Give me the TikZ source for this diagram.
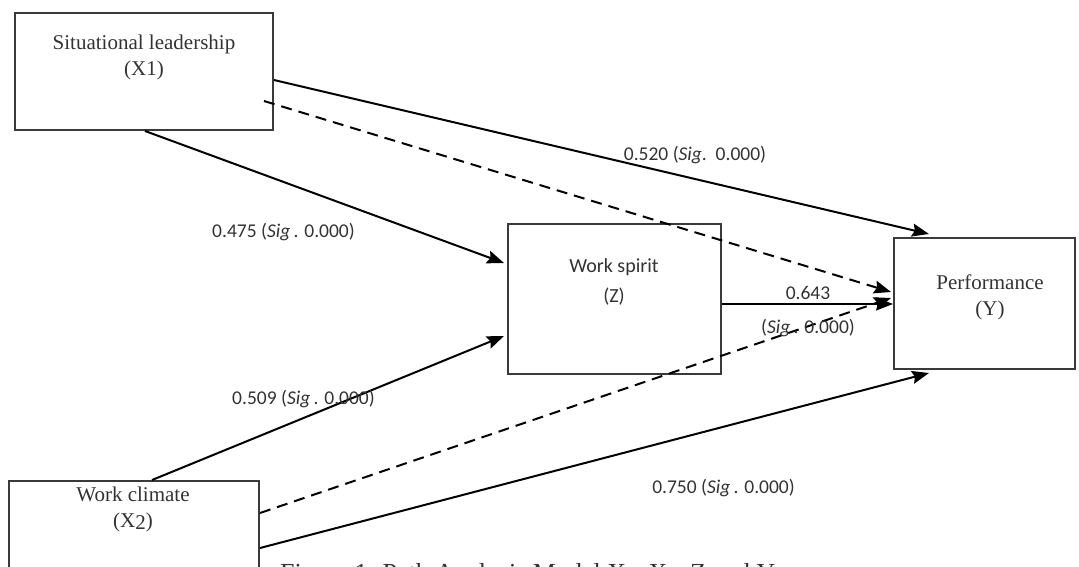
\documentclass[tikz,border=0pt]{standalone}
\usepackage{fontspec}
\setmainfont{Liberation Serif}
\newfontfamily\calib{Carlito}
\usetikzlibrary{arrows.meta,calc}
\definecolor{boxcol}{HTML}{3A3A3A}
\definecolor{txtcol}{HTML}{333333}
\tikzset{
  box/.style={draw=boxcol, line width=2pt, inner sep=0pt},
  sertxt/.style={align=center, text=txtcol, font=\fontsize{21}{26}\selectfont, inner sep=0pt},
  santxt/.style={align=center, text=txtcol, font=\calib\fontsize{20}{30}\selectfont, inner sep=0pt},
  lbl/.style={text=txtcol, font=\calib\fontsize{19.5}{24}\selectfont, inner sep=0pt},
  conn/.style={line width=2pt, -{Stealth[length=17pt,width=13pt,inset=2.5pt]}},
  dconn/.style={conn, dash pattern=on 11pt off 7pt}
}
\begin{document}
\begin{tikzpicture}[x=1pt,y=-1pt]
\useasboundingbox (0,0) rectangle (1079,566);
\fill[white] (0,0) rectangle (1079,566);
\clip (0,0) rectangle (1079,566);

% boxes
\node[box, minimum width=258pt, minimum height=117pt] (x1) at (144,71.5) {};
\node[box, minimum width=213pt, minimum height=150pt] (z) at (614.5,299) {};
\node[box, minimum width=181pt, minimum height=131pt] (y) at (984.5,303.5) {};
\node[box, minimum width=250pt, minimum height=120pt] (x2) at (134,541) {};

% box texts
\node[sertxt] (x1t) at (144,57) {Situational leadership\\(X1)};
\node[santxt] (zt) at (614,282) {Work spirit\\(Z)};
\node[sertxt] (yt) at (990,297.5) {Performance\\(Y)};
\node[sertxt] (x2t) at (133,509) {Work climate\\(X\raisebox{-2pt}{2})};

% connector end points
\coordinate (a1s) at ($(x1.north east)+(0,68)$);
\coordinate (a1e) at ($(y.north west)+(36,-3)$);
\coordinate (a2s) at ($(x1.north east)+(-10,89)$);
\coordinate (a2e) at ($(y.north west)+(-2,55)$);
\coordinate (a3s) at ($(x1.south)+(1,0)$);
\coordinate (a3e) at ($(z.north west)+(-3,40)$);
\coordinate (a4s) at ($(x2.north west)+(144,0)$);
\coordinate (a4e) at ($(z.north west)+(-3,113)$);
\coordinate (a5s) at ($(z.north east)+(0,81)$);
\coordinate (a5e) at ($(y.north west)+(0,67)$);
\coordinate (a6s) at ($(x2.north east)+(0,33)$);
\coordinate (a6e) at ($(y.north west)+(-2,61)$);
\coordinate (a7s) at ($(x2.north east)+(0,68)$);
\coordinate (a7e) at ($(y.south west)+(36,3)$);

% connectors
\draw[conn] (a1s) -- (a1e);
\draw[dconn] (a2s) -- (a2e);
\draw[conn] (a3s) -- (a3e);
\draw[conn] (a4s) -- (a4e);
\draw[conn] (a5s) -- (a5e);
\draw[dconn] (a6s) -- (a6e);
\draw[conn] (a7s) -- (a7e);

% labels
\node[lbl] (l1) at (695,155) {0.520 (\textit{Sig}.\ \ 0.000)};
\node[lbl] (l2) at (283.5,232) {0.475 (\textit{Sig}\,. 0.000)};
\node[lbl] (l3) at (303.5,399) {0.509 (\textit{Sig}\,. 0.000)};
\node[lbl] (l4) at (723.5,488) {0.750 (\textit{Sig}\,. 0.000)};
\node[lbl] (l5) at (808,293) {0.643};
\node[lbl] (l6) at (808,328) {(\textit{Sig}\,. 0.000)};

% cut-off caption (only its top shows in the reference)
\node[anchor=base west, inner sep=0pt, text=txtcol, font=\fontsize{26}{30}\selectfont] (cap) at (280,581)
  {Figure 1. Path Analysis Model X\textsubscript{1}, X\textsubscript{2}, Z and Y};
\end{tikzpicture}
\end{document}
